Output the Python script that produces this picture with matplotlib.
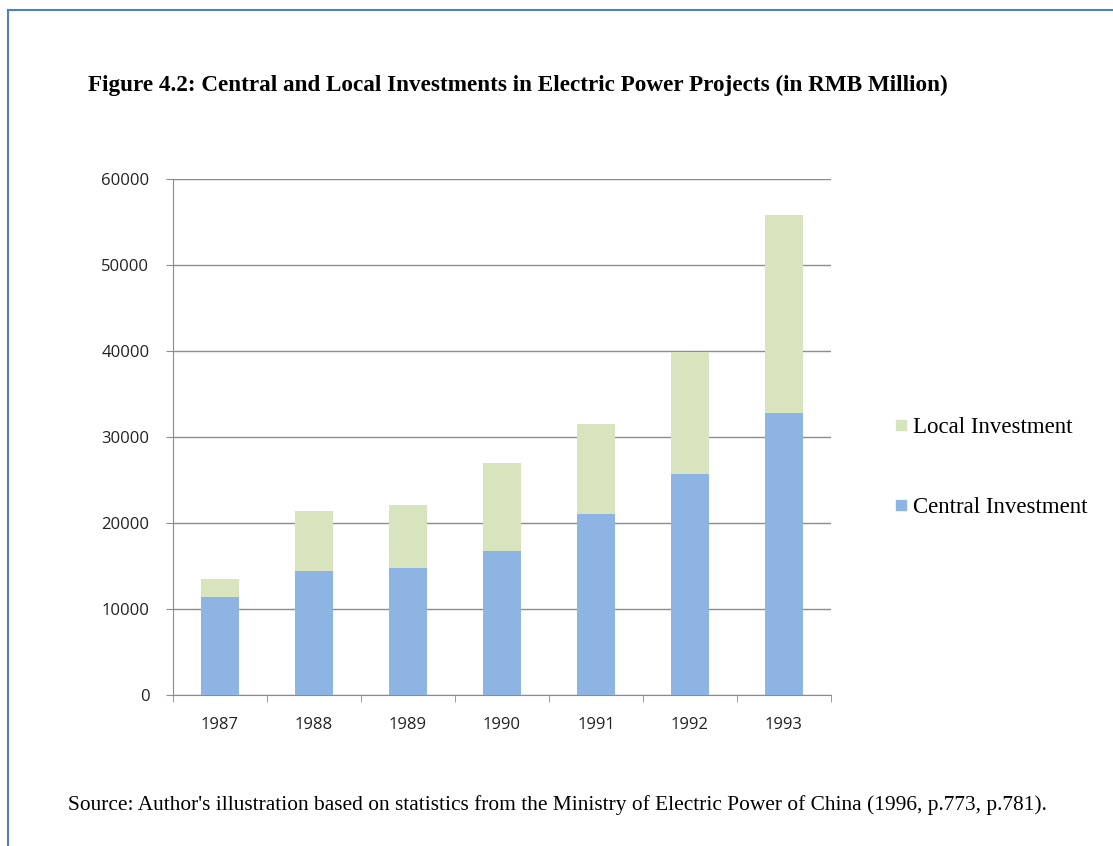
import numpy as np
import matplotlib.pyplot as plt
from matplotlib.lines import Line2D

years = ["1987", "1988", "1989", "1990", "1991", "1992", "1993"]
central = [11400, 14400, 14800, 16700, 21000, 25700, 32800]
total = [13500, 21400, 22100, 27000, 31500, 39900, 55800]
local = [t - c for t, c in zip(total, central)]

BLUE = "#8EB4E3"
GREEN = "#D7E4BD"
GRID = "#8C8C8C"

fig = plt.figure(figsize=(11.13, 8.46), dpi=100)
fig.patch.set_facecolor("white")

# page frame (left and top edges visible in the reference)
fig.add_artist(Line2D([0.0075, 0.0075], [0.0, 0.988], color="#4F81BD", lw=1.5))
fig.add_artist(Line2D([0.0075, 1.0], [0.988, 0.988], color="#4F81BD", lw=1.5))

ax = fig.add_axes([0.1554, 0.1785, 0.5912, 0.6099])
x = np.arange(len(years))
ax.bar(x, central, width=0.41, color=BLUE, label="Central Investment", zorder=3)
ax.bar(x, local, width=0.41, bottom=central, color=GREEN, label="Local Investment", zorder=3)

ax.set_xlim(-0.5, len(years) - 0.5)
ax.set_ylim(0, 60000)
ax.set_yticks(range(0, 60001, 10000))
ax.yaxis.grid(True, color=GRID, lw=1, zorder=0)
ax.set_axisbelow(True)

ax.set_xticks(x)
ax.set_xticklabels(years)
ax.set_xticks(np.arange(-0.5, len(years)), minor=True)
ax.tick_params(axis="x", which="major", length=0, pad=16)
ax.tick_params(axis="x", which="minor", length=5, color=GRID, direction="out")
ax.tick_params(axis="y", length=5, color=GRID, direction="out", pad=12)
for lab in ax.get_xticklabels() + ax.get_yticklabels():
    lab.set_family("Open Sans")
    lab.set_fontsize(12)
    lab.set_color("#222222")

for side in ("top", "right"):
    ax.spines[side].set_visible(False)
ax.spines["left"].set_color(GRID)
ax.spines["bottom"].set_color(GRID)

handles = [
    Line2D([], [], marker="s", ls="none", color=GREEN, markersize=7.7),
    Line2D([], [], marker="s", ls="none", color=BLUE, markersize=7.7),
]
fig.legend(handles, ["Local Investment", "Central Investment"],
           loc="center left", bbox_to_anchor=(0.7808, 0.4473), frameon=False,
           prop={"family": "Liberation Serif", "size": 16.5},
           handletextpad=0.0, labelspacing=2.6, handlelength=1.0)

fig.text(0.079, 0.899,
         "Figure 4.2: Central and Local Investments in Electric Power Projects (in RMB Million)",
         family="Liberation Serif", weight="bold", fontsize=16.7, va="center")
fig.text(0.061, 0.048,
         "Source: Author's illustration based on statistics from the Ministry of Electric Power of China (1996, p.773, p.781).",
         family="Liberation Serif", fontsize=15.4, va="center")

fig.savefig("out.png", dpi=100)
